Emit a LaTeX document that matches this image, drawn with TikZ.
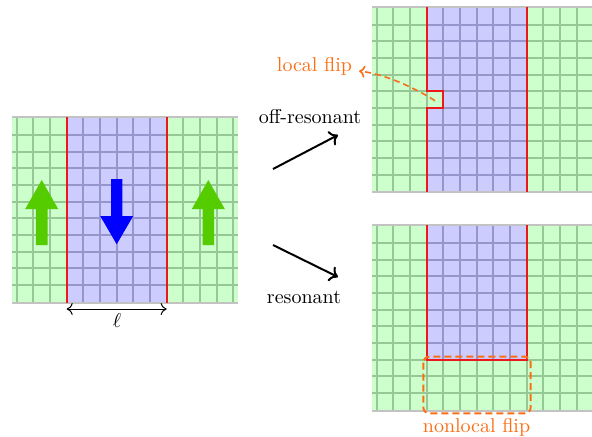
\documentclass[tikz,border=0pt]{standalone}
\usetikzlibrary{arrows.meta}
\definecolor{gfill}{RGB}{204,255,204}
\definecolor{gline}{RGB}{150,200,150}
\definecolor{bfill}{RGB}{204,204,255}
\definecolor{bline}{RGB}{150,150,205}
\definecolor{spinup}{RGB}{85,204,0}
\definecolor{spindown}{RGB}{0,0,255}
\definecolor{flipc}{RGB}{250,110,20}
\definecolor{edgec}{RGB}{195,195,195}
\definecolor{wallc}{RGB}{235,25,25}
\newcommand{\basepanel}{%
  \fill[gfill] (12,0) rectangle (238,185.6);
  \foreach \k in {1,...,14} \draw[gline,gridline] (16.667*\k,0) -- (16.667*\k,185.6);
  \foreach \k in {0,...,9} \draw[gline,gridline] (12,18+16.667*\k) -- (238,18+16.667*\k);
}
\newcommand{\bluegrid}{%
  \fill[bfill] (12,0) rectangle (238,185.6);
  \foreach \k in {1,...,14} \draw[bline,gridline] (16.667*\k,0) -- (16.667*\k,185.6);
  \foreach \k in {0,...,9} \draw[bline,gridline] (12,18+16.667*\k) -- (238,18+16.667*\k);
}
\newcommand{\edges}{%
  \draw[edgec,line width=0.9pt] (12,0) -- (238,0);
  \draw[edgec,line width=0.9pt] (12,185.6) -- (238,185.6);
}
\begin{document}
\begin{tikzpicture}[x=0.5pt,y=-0.5pt,
  gridline/.style={line width=0.9pt},
  wall/.style={wallc,line width=1pt},
  bigup/.style={fill=spinup},
  bigdown/.style={fill=spindown},
  trans/.style={line width=1pt,-{To[length=4pt,width=8pt]}},
  flipline/.style={flipc,line width=0.8pt,dash pattern=on 3pt off 2pt},
  fliptext/.style={text=flipc,inner sep=3.33pt}]
\clip (0,0) rectangle (592,436);

% ---------- left panel ----------
\begin{scope}[shift={(0,117)}]
  \basepanel
  \begin{scope}
    \clip (66.67,0) rectangle (166.67,185.6);
    \bluegrid
  \end{scope}
  \edges
  \draw[wall] (66.67,0) -- (66.67,185.6);
  \draw[wall] (166.67,0) -- (166.67,185.6);
\end{scope}
% big spin arrows
\fill[bigup] (35.9,245) -- (35.9,209) -- (25.2,209) -- (41.7,180) -- (58.2,209) -- (47.5,209) -- (47.5,245) -- cycle;
\fill[bigup] (202.5,245) -- (202.5,209) -- (191.8,209) -- (208.3,180) -- (224.8,209) -- (214.1,209) -- (214.1,245) -- cycle;
\fill[bigdown] (111,179) -- (122.4,179) -- (122.4,216) -- (133.2,216) -- (116.7,244.3) -- (100.2,216) -- (111,216) -- cycle;
% length
\coordinate (la) at (66.67,309);
\coordinate (lb) at (166.67,309);
\draw[line width=0.5pt,{To[length=3pt,width=6pt]}-{To[length=3pt,width=6pt]}] (la) -- (lb);
\node (ell) at (117,321) {$\ell$};

% ---------- top right panel ----------
\begin{scope}[shift={(360,6.7)}]
  \basepanel
  \begin{scope}
    \clip (66.67,0) -- (166.67,0) -- (166.67,185.6) -- (66.67,185.6) -- (66.67,101.33) -- (83.33,101.33) -- (83.33,84.67) -- (66.67,84.67) -- cycle;
    \bluegrid
  \end{scope}
  \edges
  \draw[wall] (66.67,0) -- (66.67,84.67) -- (83.33,84.67) -- (83.33,101.33) -- (66.67,101.33) -- (66.67,185.6);
  \draw[wall] (166.67,0) -- (166.67,185.6);
  \coordinate (flipcell) at (75,94);
\end{scope}
\node[fliptext] (lf) at (314.5,66) {local flip};
\draw[flipline,-{To[length=3pt,width=6pt]}] (flipcell) .. controls (415,88) and (385,74) .. (lf);

% ---------- bottom right panel ----------
\begin{scope}[shift={(360,225)}]
  \basepanel
  \begin{scope}
    \clip (66.67,0) rectangle (166.67,134.67);
    \bluegrid
  \end{scope}
  \edges
  \draw[wall] (66.67,0) -- (66.67,134.67) -- (166.67,134.67) -- (166.67,0);
\end{scope}
\draw[flipc,line width=1pt,dash pattern=on 3.5pt off 2pt,rounded corners=3pt] (423.3,356.7) rectangle (530.7,413.3);
\node[fliptext] (nl) at (476.5,427.5) {nonlocal flip};

% ---------- transitions ----------
\coordinate (oa) at (273,169);
\coordinate (ob) at (338,135);
\coordinate (ra) at (273,245);
\coordinate (rb) at (338,277);
\draw[trans] (oa) -- (ob);
\draw[trans] (ra) -- (rb);
\node (off) at (310,117) {off-resonant};
\node (res) at (304,297) {resonant};
\end{tikzpicture}
\end{document}
